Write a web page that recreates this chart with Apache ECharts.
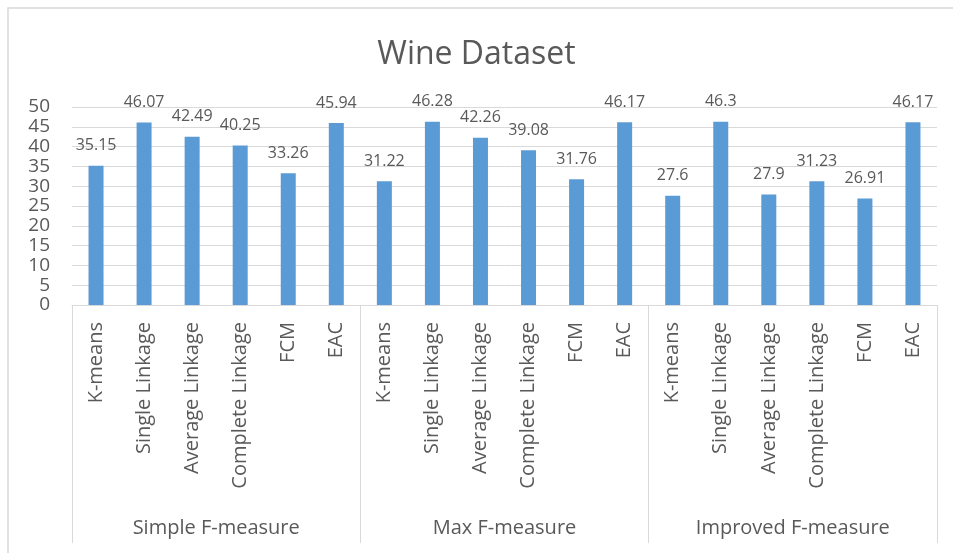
<!DOCTYPE html>
<html>
<head>
<meta charset="utf-8">
<style>
  html, body { margin: 0; padding: 0; background: #ffffff; }
  #chart { width: 953px; height: 553px; }
</style>
<script src="https://cdn.jsdelivr.net/npm/echarts@6/dist/echarts.min.js"></script>
</head>
<body>
<div id="chart"></div>
<script>
// Methods shown in each measure group
const methods = ['K-means', 'Single Linkage', 'Average Linkage', 'Complete Linkage', 'FCM', 'EAC'];
// Measure groups along the bottom
const measures = ['Simple F-measure', 'Max F-measure', 'Improved F-measure'];
// Scores per group, in the order of `methods`
const simpleF = [35.15, 46.07, 42.49, 40.25, 33.26, 45.94];
const maxF = [31.22, 46.28, 42.26, 39.08, 31.76, 46.17];
const improvedF = [27.6, 46.3, 27.9, 31.23, 26.91, 46.17];
// Value axis range
const yMin = 0, yMax = 50, yStep = 5;

const categories = [].concat(methods, methods, methods);
const values = [].concat(simpleF, maxF, improvedF);

const textColor = '#595959';
const lineColor = '#d9d9d9';
const font = '"Open Sans", "Liberation Sans", sans-serif';

const chart = echarts.init(document.getElementById('chart'));
chart.setOption({
  backgroundColor: '#ffffff',
  animation: false,
  title: {
    text: 'Wine Dataset',
    left: 'center',
    top: 34,
    textStyle: { fontFamily: font, fontSize: 32, fontWeight: 'normal', color: textColor }
  },
  graphic: [{
    type: 'rect',
    shape: { x: 8, y: 8, width: 960, height: 560 },
    style: { fill: 'none', stroke: lineColor, lineWidth: 1.5 },
    silent: true
  }],
  grid: { left: 72, right: 16, top: 107, bottom: 248 },
  xAxis: [{
    type: 'category',
    data: categories,
    position: 'bottom',
    axisLine: { show: true, lineStyle: { color: lineColor, width: 1 } },
    axisTick: { show: false },
    axisLabel: {
      rotate: 90,
      interval: 0,
      margin: 17,
      fontFamily: font,
      fontSize: 20,
      color: textColor
    }
  }, {
    type: 'category',
    data: measures,
    position: 'bottom',
    axisLine: { show: false },
    axisTick: { show: true, length: 238, lineStyle: { color: lineColor, width: 1 } },
    axisLabel: {
      interval: 0,
      margin: 213,
      fontFamily: font,
      fontSize: 20,
      color: textColor
    }
  }],
  yAxis: {
    type: 'value',
    min: yMin,
    max: yMax,
    interval: yStep,
    axisLine: { show: false },
    axisTick: { show: false },
    splitLine: { lineStyle: { color: lineColor, width: 1 } },
    axisLabel: {
      margin: 22,
      hideOverlap: false,
      fontFamily: font,
      fontSize: 19,
      lineHeight: 16,
      color: textColor
    }
  },
  series: [{
    type: 'bar',
    xAxisIndex: 0,
    data: values,
    barWidth: 15,
    itemStyle: { color: '#5b9bd5' },
    label: {
      show: true,
      position: 'top',
      distance: 12,
      fontFamily: font,
      fontSize: 16,
      color: textColor
    }
  }]
});
</script>
</body>
</html>
